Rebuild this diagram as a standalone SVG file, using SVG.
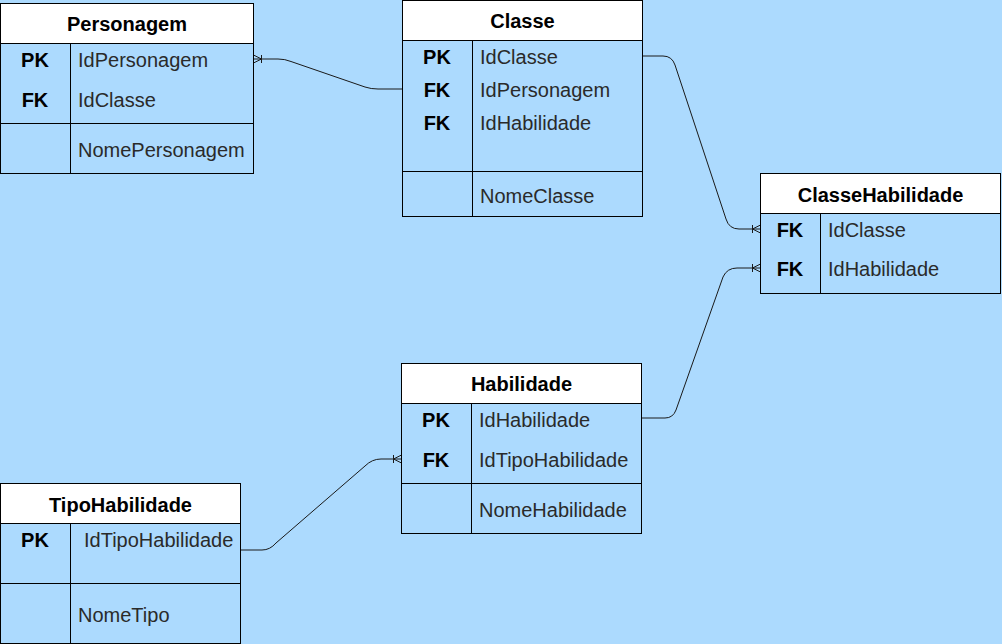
<svg xmlns="http://www.w3.org/2000/svg" width="1002" height="644" viewBox="0 0 1002 644">
<style>
.box{fill:#acdafe;stroke:#000;stroke-width:1}
.hdr{fill:#fff;stroke:#000;stroke-width:1}
.ln{stroke:#000;stroke-width:1;fill:none}
.t{font-family:"Liberation Sans",Arial,sans-serif;font-size:20px}
.h{font-weight:bold;fill:#000;text-anchor:middle}
.k{font-weight:bold;fill:#000;text-anchor:middle}
.f{fill:#2a2a2a}
.c{stroke:#1a1a1a;stroke-width:1;fill:none}
</style>
<defs>
<marker id="crow" markerUnits="userSpaceOnUse" markerWidth="20" markerHeight="20" viewBox="-10 -10 20 20" refX="0" refY="0" orient="auto" overflow="visible">
<path d="M0,-4 L-8,0 L0,4 M-8,-4 V4" fill="none" stroke="#1a1a1a" stroke-width="1"/>
</marker>
</defs>
<rect width="1002" height="644" fill="#acdafe"/>

<g id="connectors">
<path class="c" d="M402.5 89 H378 Q371 89 365 87 L291 61.5 Q285 59 278 59 H253.5" marker-end="url(#crow)"/>
<path class="c" d="M642.5 56 H663 Q672 56 675 65 L726 219 Q729 229 739 229 H760.5" marker-end="url(#crow)"/>
<path class="c" d="M641.5 418 H665 Q673 418 676 410 L723 277 Q727 268 737 268 H760.5" marker-end="url(#crow)"/>
<path class="c" d="M240.5 550 H262 Q270 550 276 543 L365 466 Q372 459 381 459 H401.5" marker-end="url(#crow)"/>
</g>

<g id="Personagem">
<rect class="box" x="0.5" y="3.5" width="253" height="170"/>
<rect class="hdr" x="0.5" y="3.5" width="253" height="40"/>
<path class="ln" d="M70.5 43.5 V173.5 M0.5 123.5 H253.5"/>
<text class="t h" x="127" y="31">Personagem</text>
<text class="t k" x="35" y="67">PK</text>
<text class="t f" x="78" y="67">IdPersonagem</text>
<text class="t k" x="35" y="107">FK</text>
<text class="t f" x="78" y="107">IdClasse</text>
<text class="t f" x="78" y="157">NomePersonagem</text>
</g>

<g id="Classe">
<rect class="box" x="402.5" y="0.5" width="240" height="216"/>
<rect class="hdr" x="402.5" y="0.5" width="240" height="40"/>
<path class="ln" d="M472.5 40.5 V216.5 M402.5 171.5 H642.5"/>
<text class="t h" x="522.5" y="28">Classe</text>
<text class="t k" x="437" y="64">PK</text>
<text class="t f" x="480" y="64">IdClasse</text>
<text class="t k" x="437" y="97">FK</text>
<text class="t f" x="480" y="97">IdPersonagem</text>
<text class="t k" x="437" y="130">FK</text>
<text class="t f" x="480" y="130">IdHabilidade</text>
<text class="t f" x="480" y="203">NomeClasse</text>
</g>

<g id="ClasseHabilidade">
<rect class="box" x="760.5" y="173.5" width="240" height="120"/>
<rect class="hdr" x="760.5" y="173.5" width="240" height="40"/>
<path class="ln" d="M820.5 213.5 V293.5"/>
<text class="t h" x="880.5" y="202">ClasseHabilidade</text>
<text class="t k" x="790" y="237">FK</text>
<text class="t f" x="828" y="237">IdClasse</text>
<text class="t k" x="790" y="276">FK</text>
<text class="t f" x="828" y="276">IdHabilidade</text>
</g>

<g id="Habilidade">
<rect class="box" x="401.5" y="363.5" width="240" height="170"/>
<rect class="hdr" x="401.5" y="363.5" width="240" height="40"/>
<path class="ln" d="M471.5 403.5 V533.5 M401.5 483.5 H641.5"/>
<text class="t h" x="521.5" y="391">Habilidade</text>
<text class="t k" x="436" y="427">PK</text>
<text class="t f" x="479" y="427">IdHabilidade</text>
<text class="t k" x="436" y="467">FK</text>
<text class="t f" x="479" y="467">IdTipoHabilidade</text>
<text class="t f" x="479" y="517">NomeHabilidade</text>
</g>

<g id="TipoHabilidade">
<rect class="box" x="0.5" y="483.5" width="240" height="160"/>
<rect class="hdr" x="0.5" y="483.5" width="240" height="40"/>
<path class="ln" d="M70.5 523.5 V643.5 M0.5 583.5 H240.5"/>
<text class="t h" x="120.5" y="512">TipoHabilidade</text>
<text class="t k" x="35" y="547">PK</text>
<text class="t f" x="84" y="547">IdTipoHabilidade</text>
<text class="t f" x="78" y="622">NomeTipo</text>
</g>
</svg>
